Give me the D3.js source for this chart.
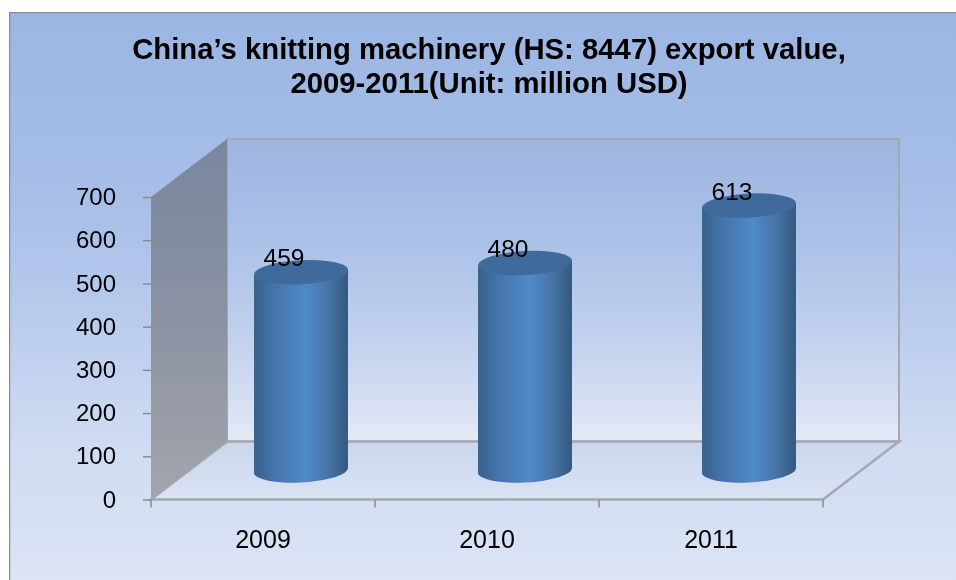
<!DOCTYPE html>
<html>
<head>
<meta charset="utf-8">
<script src="https://cdn.jsdelivr.net/npm/d3@7"></script>
<style>
  html, body { margin: 0; padding: 0; background: #fff; }
  svg { display: block; }
  text { font-family: "Liberation Sans", Arial, sans-serif; fill: #000; }
</style>
</head>
<body>
<div id="chart"></div>
<script>
const categories = ["2009", "2010", "2011"];
const values = [459, 480, 613];
const yTicks = [0, 100, 200, 300, 400, 500, 600, 700];
const titleLines = ["China’s knitting machinery (HS: 8447) export value,", "2009-2011(Unit: million USD)"];

const width = 956, height = 580;
const depthX = 76, depthY = -58;

const svg = d3.select("#chart").append("svg")
    .attr("width", width)
    .attr("height", height);

const defs = svg.append("defs");

function gradient(id, stops, horizontal) {
    const g = defs.append("linearGradient")
        .attr("id", id)
        .attr("x1", 0).attr("y1", 0)
        .attr("x2", horizontal ? 1 : 0).attr("y2", horizontal ? 0 : 1);
    stops.forEach(s => g.append("stop").attr("offset", s[0]).attr("stop-color", s[1]));
}

gradient("bg", [[0, "#9bb6e3"], [0.35, "#a9c0e8"], [0.72, "#cfdbf2"], [1, "#dfe6f5"]]);
gradient("wall", [[0, "#9db4e0"], [0.4, "#aec4e9"], [0.75, "#c9d6ef"], [1, "#e4e9f6"]]);
gradient("side", [[0, "#78869f"], [0.5, "#8b92a2"], [1, "#a3a5ab"]]);
gradient("floor", [[0, "#c9d6ed"], [1, "#dbe3f3"]]);
gradient("cyl", [[0, "#39618c"], [0.2, "#4373a9"], [0.55, "#5089c8"], [0.82, "#44719f"], [1, "#33587f"]], true);

const blur = defs.append("filter").attr("id", "soft")
    .attr("x", 0).attr("y", 0).attr("width", 1).attr("height", 1);
blur.append("feGaussianBlur").attr("stdDeviation", 0.45);

const root = svg.append("g").attr("filter", "url(#soft)");

// frame, open on the right where it runs off the picture
root.append("rect")
    .attr("x", 9).attr("y", 12)
    .attr("width", 1000).attr("height", 600)
    .attr("fill", "url(#bg)")
    .attr("stroke", "#858d9e")
    .attr("stroke-width", 2.5);

const title = root.append("text")
    .attr("text-anchor", "middle")
    .attr("font-weight", "bold")
    .attr("font-size", 29.3);
titleLines.forEach((t, i) => {
    title.append("tspan").attr("x", 489).attr("y", 59 + i * 34).text(t);
});

const x = d3.scaleBand().domain(categories).range([151, 823]);
const y = d3.scaleLinear().domain([0, 700]).range([499.5, 197]);
const edge = "#a5a8ae";

const x0 = x.range()[0], x1 = x.range()[1], y0 = y(0), yT = y(700);
const poly = pts => pts.map(p => p.join(",")).join(" ");

// back wall, left wall and floor
root.append("polygon")
    .attr("points", poly([[x0 + depthX, yT + depthY], [x1 + depthX, yT + depthY], [x1 + depthX, y0 + depthY], [x0 + depthX, y0 + depthY]]))
    .attr("fill", "url(#wall)")
    .attr("stroke", edge).attr("stroke-width", 2);
root.append("polygon")
    .attr("points", poly([[x0 + depthX, y0 + depthY], [x1 + depthX, y0 + depthY], [x1, y0], [x0, y0]]))
    .attr("fill", "url(#floor)")
    .attr("stroke", edge).attr("stroke-width", 2.5);
root.append("polygon")
    .attr("points", poly([[x0, yT], [x0 + depthX, yT + depthY], [x0 + depthX, y0 + depthY], [x0, y0]]))
    .attr("fill", "url(#side)");

// axes
const yAxis = d3.axisLeft(y).tickValues(yTicks).tickSize(8).tickPadding(27);
const xAxis = d3.axisBottom(x).tickSize(0).tickPadding(31);

const gy = root.append("g").attr("transform", `translate(${x0},0)`).call(yAxis);
const gx = root.append("g").attr("transform", `translate(0,${y0})`).call(xAxis);
root.append("g").selectAll("line")
    .data(d3.range(categories.length + 1))
    .join("line")
    .attr("x1", i => x0 + i * x.step()).attr("x2", i => x0 + i * x.step())
    .attr("y1", y0).attr("y2", y0 + 8)
    .attr("stroke", "#868a90").attr("stroke-width", 1.5);

[gy, gx].forEach(g => {
    g.select(".domain").attr("stroke", "none");
    g.selectAll(".tick line").attr("stroke", "#8c8c8c").attr("stroke-width", 1.5);
    g.selectAll(".tick text").style("font-family", '"Liberation Sans", Arial, sans-serif');
});
gy.selectAll(".tick text").attr("font-size", 24);
gx.selectAll(".tick text").attr("font-size", 25);

// cylinders
const rx = x.bandwidth() * 0.21, ry = 12, tilt = -3;
const dx = Math.cos(tilt * Math.PI / 180) * rx, dy = Math.sin(tilt * Math.PI / 180) * rx;
const cx = d => x(d.cat) + x.bandwidth() / 2 + depthX / 2;
const baseY = y(0) + depthY / 2;
const topY = d => y(d.val) + depthY / 2;
const rows = categories.map((c, i) => ({ cat: c, val: values[i] }));

const bars = root.append("g").selectAll("g").data(rows).join("g");

bars.append("path")
    .attr("fill", "url(#cyl)")
    .attr("d", d => {
        const c = cx(d), t = topY(d);
        return `M${c - dx},${t - dy} L${c - dx},${baseY - dy}` +
            ` A${rx},${ry} ${tilt} 0 0 ${c + dx},${baseY + dy}` +
            ` L${c + dx},${t + dy} Z`;
    });
bars.append("ellipse")
    .attr("rx", rx).attr("ry", ry)
    .attr("transform", d => `translate(${cx(d)},${topY(d)}) rotate(${tilt})`)
    .attr("fill", "#3f6b9b");

// value labels
bars.append("text")
    .attr("x", d => cx(d) - 17)
    .attr("y", d => topY(d) - 6)
    .attr("text-anchor", "middle")
    .attr("font-size", 24.5)
    .text(d => d.val);
</script>
</body>
</html>
